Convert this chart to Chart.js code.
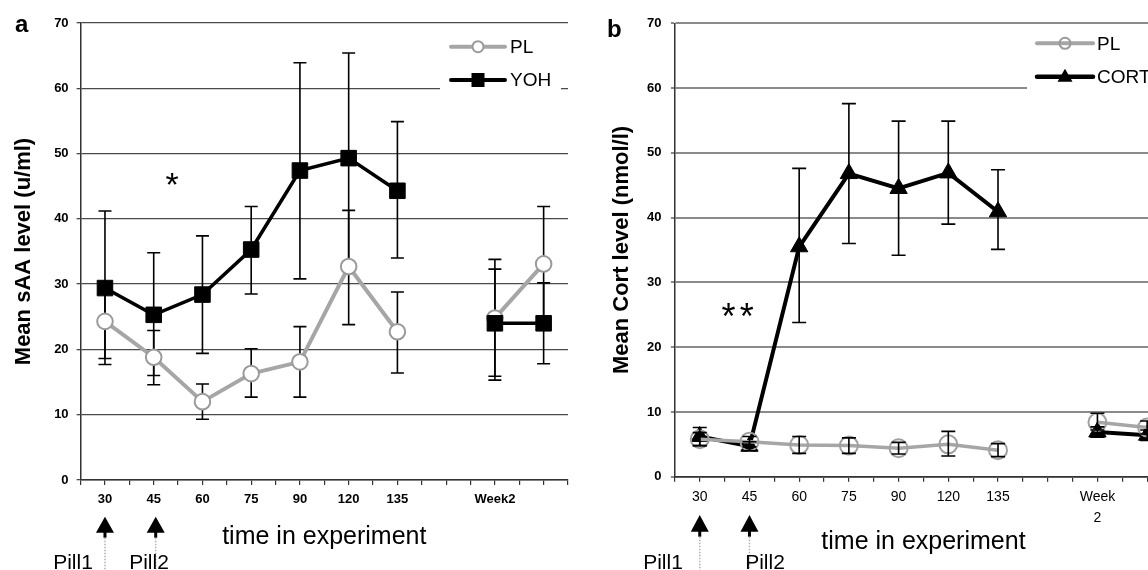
<!DOCTYPE html>
<html><head><meta charset="utf-8">
<script src="https://cdn.jsdelivr.net/npm/chart.js@4.4.1/dist/chart.umd.min.js"></script>
<style>
html,body{margin:0;padding:0;background:#fff;overflow:hidden;width:1148px;height:570px;}
#a{position:absolute;left:0;top:0;}
#b{position:absolute;left:580px;top:0;}
</style></head><body>
<canvas id="a" width="580" height="570"></canvas>
<canvas id="b" width="620" height="570"></canvas>
<script>
const FONT = "'Liberation Sans', Arial, sans-serif";

// categories (index 7 is an empty slot on the time axis)
const timeCatsA = ['30','45','60','75','90','120','135','','Week2',''];
const timeCatsB = ['30','45','60','75','90','120','135','',['Week','2'],''];
const yRange = [0, 70, 10]; // min, max, step

// panel a : salivary alpha-amylase (u/ml)
const sAA_PL      = [24.3, 18.8, 12.0, 16.3, 18.1, 32.7, 22.7, null, 24.8, 33.1];
const sAA_PL_lo   = [18.6, 14.6,  9.3, 12.7, 12.7, 23.8, 16.4, null, 15.9, 24.3];
const sAA_PL_hi   = [30.0, 22.9, 14.7, 20.1, 23.5, 41.3, 28.8, null, 33.8, 41.9];
const sAA_YOH     = [29.4, 25.3, 28.4, 35.3, 47.4, 49.3, 44.3, null, 24.0, 24.0];
const sAA_YOH_lo  = [17.7, 16.0, 19.4, 28.5, 30.8, 33.2, 34.0, null, 15.3, 17.8];
const sAA_YOH_hi  = [41.2, 34.8, 37.4, 41.9, 63.9, 65.4, 54.9, null, 32.3, 30.2];

// panel b : cortisol (nmol/l)
const cort_PL     = [5.8, 5.4, 4.9, 4.8, 4.4, 5.0, 4.1, null, 8.4, 7.6];
const cort_PL_lo  = [4.8, 4.6, 3.6, 3.6, 3.5, 3.2, 3.1, null, 7.2, 6.6];
const cort_PL_hi  = [6.8, 6.2, 6.2, 6.0, 5.3, 7.0, 5.1, null, 9.8, 8.6];
const cort_CORT   = [6.2, 4.7, 35.5, 46.8, 44.5, 46.9, 40.9, null, 6.9, 6.4];
const cort_CORT_lo= [4.8, 4.0, 23.8, 36.0, 34.2, 39.0, 35.1, null, 6.1, 5.6];
const cort_CORT_hi= [7.6, 5.4, 47.6, 57.6, 54.9, 54.9, 47.4, null, 7.7, 7.2];

const pts = arr => arr.map((v, i) => ({x: i, y: v}));
const catLabel = (cats, v) => {
  const i = Math.round(v);
  if (Math.abs(v - i) > 1e-6 || i < 0 || i >= cats.length) return '';
  return cats[i];
};

function errorBars(series, hook, cap) {
  return { id: 'errorBars', [hook](chart) {
    const {ctx} = chart, x = chart.scales.x, y = chart.scales.y;
    ctx.save(); ctx.strokeStyle = '#000'; ctx.lineWidth = 1.6;
    series.forEach(s => s.lo.forEach((lo, i) => {
      const hi = s.hi[i]; if (lo == null || hi == null) return;
      const px = x.getPixelForValue(i), y1 = y.getPixelForValue(lo), y2 = y.getPixelForValue(hi);
      ctx.beginPath();
      ctx.moveTo(px, y1); ctx.lineTo(px, y2);
      ctx.moveTo(px - cap, y1); ctx.lineTo(px + cap, y1);
      ctx.moveTo(px - cap, y2); ctx.lineTo(px + cap, y2);
      ctx.stroke();
    }));
    ctx.restore();
  }};
}

function marker(ctx, kind, x, y) {
  ctx.save();
  if (kind === 'circleW' || kind === 'circleO') {
    ctx.beginPath(); ctx.arc(x, y, 5.5, 0, Math.PI * 2);
    if (kind === 'circleW') { ctx.fillStyle = '#fff'; ctx.fill(); }
    ctx.strokeStyle = '#9a9a9a'; ctx.lineWidth = 2; ctx.stroke();
  } else if (kind === 'rect') {
    ctx.fillStyle = '#000'; ctx.fillRect(x - 6.5, y - 7, 13, 14);
  } else if (kind === 'tri') {
    ctx.fillStyle = '#000'; ctx.beginPath();
    ctx.moveTo(x, y - 8); ctx.lineTo(x + 7.5, y + 5); ctx.lineTo(x - 7.5, y + 5); ctx.closePath(); ctx.fill();
  }
  ctx.restore();
}

function legendBox(items, box) {
  return { id: 'legendBox', afterDatasetsDraw(chart) {
    const ctx = chart.ctx; ctx.save();
    ctx.fillStyle = '#fff'; ctx.fillRect(box.x, box.y, box.w, box.h);
    items.forEach(it => {
      ctx.strokeStyle = it.color; ctx.lineWidth = it.lw; ctx.lineCap = 'round';
      ctx.beginPath(); ctx.moveTo(box.l0, it.y); ctx.lineTo(box.l1, it.y); ctx.stroke();
      marker(ctx, it.marker, (box.l0 + box.l1) / 2, it.y);
      ctx.fillStyle = '#000'; ctx.font = `19px ${FONT}`; ctx.textBaseline = 'middle'; ctx.textAlign = 'left';
      ctx.fillText(it.label, box.tx, it.y + 1);
    });
    ctx.restore();
  }};
}

function arrow(ctx, x, top, base) {
  ctx.save();
  ctx.fillStyle = '#000';
  ctx.beginPath(); ctx.moveTo(x, top); ctx.lineTo(x + 9, base); ctx.lineTo(x - 9, base); ctx.closePath(); ctx.fill();
  ctx.fillRect(x - 1.5, base - 1, 3, 6);
  ctx.strokeStyle = '#b0b0b0'; ctx.lineWidth = 1.5; ctx.setLineDash([1.5, 1.5]);
  ctx.beginPath(); ctx.moveTo(x, base + 5); ctx.lineTo(x, 570); ctx.stroke();
  ctx.restore();
}

function annotations(cfg) {
  return { id: 'annot', afterDraw(chart) {
    const ctx = chart.ctx, x = chart.scales.x;
    ctx.save();
    ctx.fillStyle = '#000'; ctx.textBaseline = 'alphabetic';
    ctx.font = `bold 24px ${FONT}`; ctx.textAlign = 'left';
    ctx.fillText(cfg.letter, cfg.letterX, cfg.letterY);
    ctx.font = `${cfg.starSize}px ${FONT}`; ctx.textAlign = 'center';
    cfg.stars.forEach(s => ctx.fillText('*', s[0], s[1] + 0.57 * cfg.starSize));
    arrow(ctx, x.getPixelForValue(0), cfg.arrowTop, cfg.arrowBase);
    arrow(ctx, x.getPixelForValue(1) + cfg.arrow2dx, cfg.arrowTop, cfg.arrowBase);
    ctx.fillStyle = '#000';
    ctx.font = `21px ${FONT}`; ctx.textAlign = 'center';
    ctx.fillText('Pill1', cfg.pill1X, 568.5);
    ctx.fillText('Pill2', cfg.pill2X, 568.5);
    ctx.restore();
  }};
}

function makeChart(id, o) {
  return new Chart(document.getElementById(id), {
    type: 'line',
    data: { datasets: o.datasets },
    options: {
      responsive: false, animation: false, devicePixelRatio: 1,
      layout: { padding: o.padding },
      elements: { line: { tension: 0 } },
      plugins: { legend: { display: false }, tooltip: { enabled: false } },
      scales: {
        x: {
          type: 'linear', min: -0.5, max: o.cats.length - 0.5,
          afterFit: s => { s.height = o.xH; },
          grid: { drawOnChartArea: false, drawTicks: true, tickLength: 5, color: '#333', lineWidth: 1.2 },
          border: { color: '#333', width: 1.5 },
          ticks: { stepSize: 0.5, autoSkip: false, maxRotation: 0, minRotation: 0, padding: o.xTickPad,
                   color: '#000', font: o.xTickFont, callback: v => catLabel(o.cats, v) },
          title: { display: true, text: 'time in experiment', color: '#000',
                   font: { family: FONT, size: 25 }, padding: { top: 0, bottom: o.xTitlePad } }
        },
        y: {
          min: yRange[0], max: yRange[1],
          afterFit: s => { s.width = o.yW; },
          grid: { color: o.gridColor, lineWidth: o.gridW, drawTicks: true, tickLength: 4 },
          border: { color: '#333', width: 1.5 },
          ticks: { stepSize: yRange[2], padding: o.yTickPad, color: '#000',
                   font: { family: FONT, size: 13, weight: 'bold' } },
          title: { display: true, text: o.yTitle, color: '#000',
                   font: { family: FONT, size: 22, weight: 'bold' }, padding: { top: o.yTitlePad, bottom: 0 } }
        }
      }
    },
    plugins: o.plugins
  });
}

// Panel a
makeChart('a', {
  cats: timeCatsA,
  padding: { left: 0, right: 12, top: 23, bottom: 0 },
  xH: 90, yW: 80.6, xTickPad: 7, xTitlePad: 18.3, yTickPad: 8, yTitlePad: 10.8,
  xTickFont: { family: FONT, size: 13, weight: 'bold' },
  gridColor: '#4a4a4a', gridW: 1.3,
  yTitle: 'Mean sAA level (u/ml)',
  datasets: [
    { label: 'YOH', data: pts(sAA_YOH), borderColor: '#000', borderWidth: 3.5, pointStyle: 'rect',
      pointRadius: 11, pointBackgroundColor: '#000', pointBorderColor: '#000', pointBorderWidth: 1, order: 0 },
    { label: 'PL', data: pts(sAA_PL), borderColor: '#a6a6a6', borderWidth: 4, pointStyle: 'circle',
      pointRadius: 7.8, pointBackgroundColor: '#fff', pointBorderColor: '#9a9a9a', pointBorderWidth: 2, order: 1 }
  ],
  plugins: [
    errorBars([{lo: sAA_PL_lo, hi: sAA_PL_hi}, {lo: sAA_YOH_lo, hi: sAA_YOH_hi}], 'beforeDatasetsDraw', 6.5),
    legendBox([
      {label: 'PL', color: '#a6a6a6', lw: 4, marker: 'circleW', y: 46.7},
      {label: 'YOH', color: '#000', lw: 4, marker: 'rect', y: 80}
    ], {x: 440, y: 25, w: 121, h: 70, l0: 451, l1: 505, tx: 510}),
    annotations({ letter: 'a', letterX: 15, letterY: 32, starSize: 34, stars: [[172, 177]],
      arrowTop: 516.7, arrowBase: 532.7, arrow2dx: 2, pill1X: 73, pill2X: 149 })
  ]
});

// Panel b
makeChart('b', {
  cats: timeCatsB,
  padding: { left: 0, right: 28, top: 23.3, bottom: 0 },
  xH: 93.3, yW: 94.9, xTickPad: 4.5, xTitlePad: 13.3, yTickPad: 9.4, yTitlePad: 28.3,
  xTickFont: { family: FONT, size: 14, lineHeight: 1.5 },
  gridColor: '#8a8a8a', gridW: 2,
  yTitle: 'Mean Cort level (nmol/l)',
  datasets: [
    { label: 'PL', data: pts(cort_PL), borderColor: '#a6a6a6', borderWidth: 3.5, pointStyle: 'circle',
      pointRadius: 9, pointBackgroundColor: 'rgba(0,0,0,0)', pointBorderColor: '#a0a0a0', pointBorderWidth: 2, order: 0 },
    { label: 'CORT', data: pts(cort_CORT), borderColor: '#000', borderWidth: 4, pointStyle: 'triangle',
      pointRadius: 10, pointBackgroundColor: '#000', pointBorderColor: '#000', pointBorderWidth: 1, order: 1 }
  ],
  plugins: [
    errorBars([{lo: cort_PL_lo, hi: cort_PL_hi}, {lo: cort_CORT_lo, hi: cort_CORT_hi}], 'afterDatasetsDraw', 7),
    legendBox([
      {label: 'PL', color: '#a6a6a6', lw: 4, marker: 'circleO', y: 43.3},
      {label: 'CORT', color: '#000', lw: 4.5, marker: 'tri', y: 76.7}
    ], {x: 447, y: 25, w: 173, h: 70, l0: 457, l1: 513, tx: 517}),
    annotations({ letter: 'b', letterX: 27, letterY: 37, starSize: 36, stars: [[148.6, 308], [166.7, 308]],
      arrowTop: 515, arrowBase: 531.7, arrow2dx: 0, pill1X: 83, pill2X: 185 })
  ]
});
</script>
</body></html>
